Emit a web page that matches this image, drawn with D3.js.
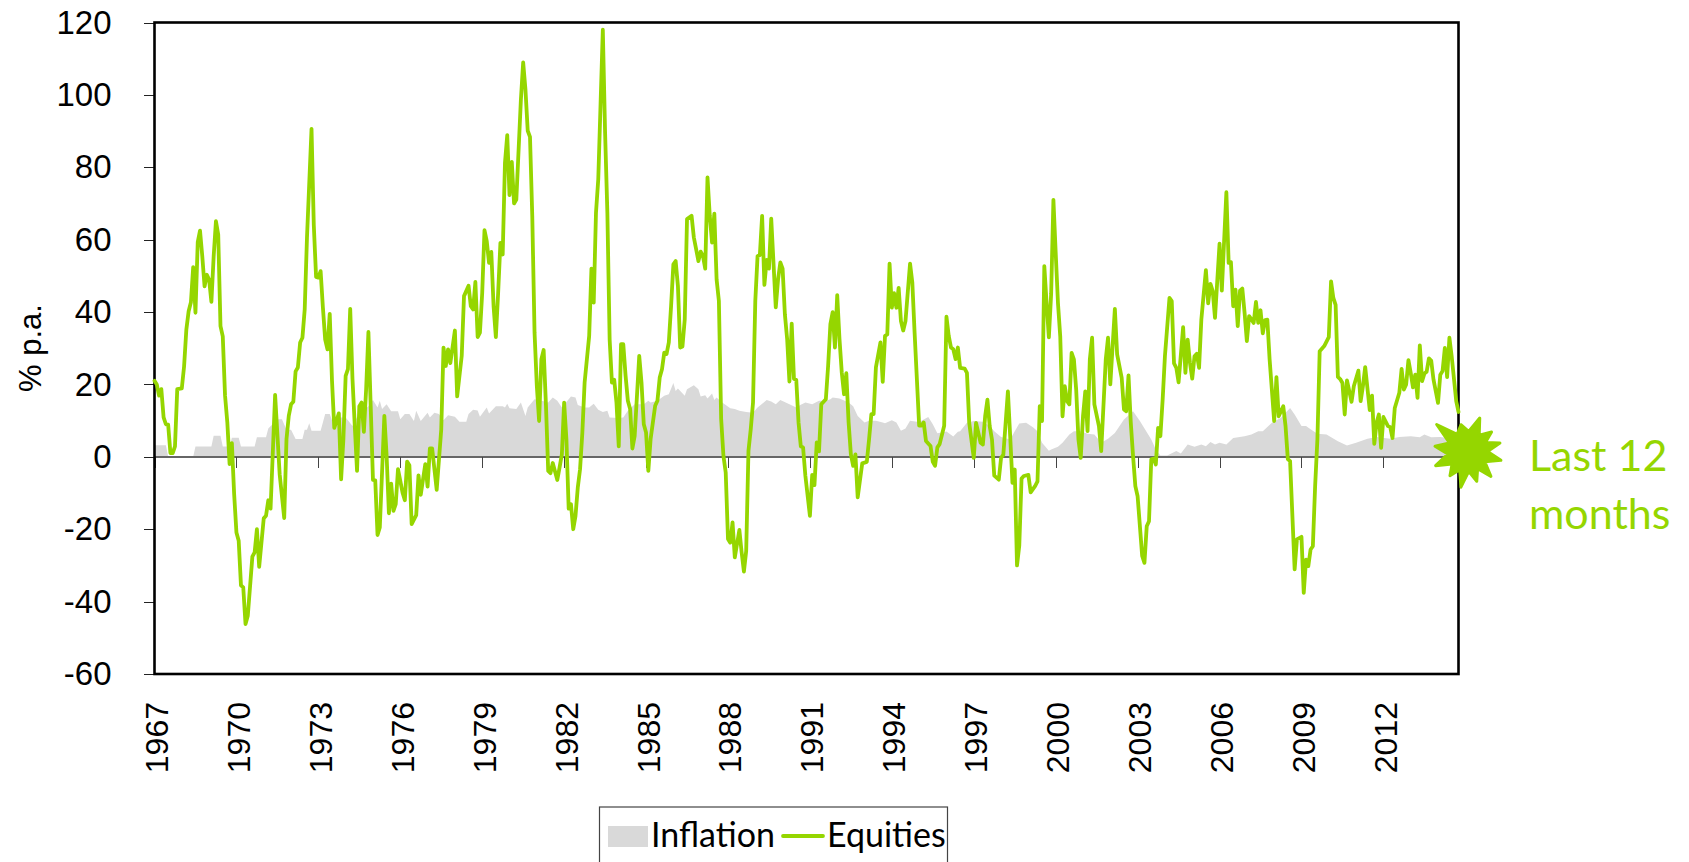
<!DOCTYPE html>
<html lang="en">
<head>
<meta charset="UTF-8">
<title>Equities vs inflation</title>
<script src="https://d3js.org/d3.v7.min.js"></script>
<style>
    body { margin: 0; background: #fff; }
    .axis text { font-family: "Liberation Sans", Arial, sans-serif; font-size: 32px; fill: #000; }
    .y-axis text { font-size: 33px; }
    .axis path, .axis line { fill: none; shape-rendering: crispEdges; }
    .callout { font-family: Lato, sans-serif; fill: #95d600; font-size: 43px; }
    .legend text { font-family: Lato, sans-serif; font-size: 34px; fill: #000; }
</style>
</head>
<body>
<script>
// values: [months since Jan 1967, % p.a.]
const equities = [
[0,21],[1,20],[2,16.9],[3,18.7],[4,10.9],[5,9],[6,8.9],[7,1],[8,1],[9,2.9],[10,18.7],[12,18.9],[13,25],[14,35.2],[15,40.2],[16,42.7],[17,52.4],[18,39.8],[19,59.3],[20,62.5],
[21,55.4],[22,47.1],[23,50.3],[24,49],[25,42.8],[26,55.4],[27,65.1],[28,61.4],[29,36.1],[30,33.3],[31,16.9],[32,9.5],[33,-2],[34,3.8],[35,-10.3],[36,-20.9],[37,-23.2],[38,-35.5],[39,-36.1],[40,-46.2],
[41,-43.9],[43,-27.6],[44,-26.4],[45,-20],[46,-30.4],[48,-17],[49,-16.3],[50,-12],[51,-14.3],[53,17.1],[55,-4.8],[57,-16.9],[58,4.9],[59,11.3],[60,14.5],[61,15.2],[62,23.6],[63,24.7],[64,31.6],[65,32.9],
[66,40.7],[67,60.5],[69,90.6],[70,64],[71,49.7],[72,49.5],[73,51.3],[74,41.2],[75,32.4],[76,29.7],[77,39.5],[78,21],[79,8],[81,12],[82,-6.2],[83,4.9],[84,22.4],[85,24.2],[86,40.9],[87,21.5],
[88,8.6],[89,-3.9],[90,14],[91,15],[92,6.9],[93,18.7],[94,34.5],[95,14],[96,-6.4],[97,-6.5],[98,-21.6],[99,-19.5],[101,11.3],[102,0.3],[103,-15.6],[104,-7.4],[105,-14.9],[106,-13.1],[107,-3.4],[109,-9.9],
[110,-12],[111,-1.3],[112,-2.3],[113,-18.6],[115,-16.1],[116,-5.1],[117,-10.5],[119,-2],[120,-8.2],[121,2.3],[122,2.3],[124,-9.1],[126,7.6],[127,30.2],[128,25.1],[129,29.7],[130,25.9],[132,34.9],[133,16.7],[135,27.9],
[136,44.4],[138,47.3],[139,41.6],[140,40.7],[141,48.3],[142,33.1],[143,34.3],[144,45.3],[145,62.6],[146,59.6],[147,53.6],[148,56.6],[149,41.6],[150,33.1],[151,45.3],[152,59.1],[153,55.9],[154,81.2],[155,88.9],[156,72.3],
[157,81.5],[158,70],[159,71.1],[161,98.7],[162,109],[163,101.5],[164,90.1],[165,88.4],[166,66.5],[167,34.3],[168,19.6],[169,9.9],[170,27],[171,29.5],[172,14.5],[173,-3.9],[174,-4.5],[175,-1.7],[177,-6.4],[178,-2.9],
[179,0.7],[180,15],[181,4.9],[182,-14.3],[183,-13.1],[184,-20],[185,-16.3],[186,-8.5],[187,-3.4],[188,6.7],[189,20.5],[191,33.4],[192,52],[193,42.6],[194,67.5],[195,76.7],[197,118],[198,89.5],[199,67.4],[200,32.4],
[201,20.5],[202,21.3],[203,15],[204,2.9],[205,31.1],[206,31.1],[207,22.4],[208,15.5],[209,13.2],[210,2.3],[211,5.8],[213,27.9],[214,20.5],[215,9],[216,6.7],[217,-3.9],[218,4.9],[220,14.1],[221,15.5],[222,21.9],
[223,24.2],[224,28.8],[225,28.4],[226,31.6],[227,41.7],[228,53.2],[229,54.1],[230,47.2],[231,30.2],[232,30.5],[233,38],[234,65.7],[236,66.6],[237,60.6],[238,57.4],[239,54.1],[240,56.7],[241,55.5],[242,52],[243,77.2],
[244,66.6],[245,59.2],[246,67.2],[247,49],[248,43.1],[249,10.4],[250,0.3],[251,-4.3],[252,-22.7],[253,-23.7],[254,-18.1],[255,-27.8],[257,-20.2],[258,-26.4],[259,-31.7],[260,-26],[261,1.7],[262,7.6],[263,15],[264,43.1],
[265,55.5],[266,55.7],[267,66.6],[268,47.5],[269,54.4],[270,52],[271,65.8],[273,41.3],[274,49],[275,53.7],[276,52],[277,39.4],[278,32.5],[279,20.8],[280,36.8],[281,21.5],[282,21.3],[283,9.5],[284,2.9],[285,2.6],
[286,-5.2],[288,-16.3],[289,-5],[290,-7.8],[291,4],[292,1.5],[293,14.5],[295,15.9],[296,25.1],[297,36.7],[298,40],[299,30.2],[300,44.7],[301,32.5],[302,23.3],[303,17.3],[304,23.1],[305,9.5],[306,0.7],[307,-2.5],
[308,0.7],[309,-11.2],[311,-1.8],[313,-1.4],[314,4.9],[315,11.8],[316,11.8],[317,24.7],[319,31.6],[320,20.7],[321,33.4],[322,33.8],[323,53.4],[324,41.2],[325,45.2],[326,41.2],[327,46.7],[328,37.5],[329,34.9],[330,37.5],
[332,53.4],[333,48.2],[334,34.3],[336,8.6],[337,8.6],[338,9.5],[339,4.4],[341,3],[342,-1.4],[343,-2.5],[344,2.6],[345,3.5],[347,8.6],[348,38.7],[349,33.4],[350,30.2],[351,29.7],[352,27],[353,30.2],[354,24.6],
[356,24.4],[357,23.2],[358,9.4],[360,-0.3],[361,9.4],[363,3.9],[364,3.4],[365,11.2],[366,15.8],[367,8.5],[368,4.8],[369,-5.2],[371,-6.3],[372,-0.3],[373,0.6],[375,18.1],[376,5.7],[377,-7.2],[378,-3.5],[379,-30],
[380,-24.5],[381,-6],[382,-5.3],[384,-5],[385,-9.8],[387,-8],[388,-6.8],[389,14],[390,9.9],[391,52.7],[392,42.5],[393,33],[394,45],[395,71],[396,56.4],[397,42.5],[398,33.3],[399,11.2],[400,19.5],[401,15.4],
[402,14.5],[403,28.7],[404,26.9],[405,18.6],[406,4.8],[407,-0.3],[408,11.2],[409,18.1],[410,7.1],[411,26.9],[412,32.9],[413,14.5],[415,8.5],[416,1.6],[418,26.9],[419,32.9],[420,20],[422,40.9],[423,28.3],[425,21.8],
[426,13.1],[427,12.6],[428,22.5],[429,9.4],[430,0.2],[431,-8.1],[432,-10.9],[434,-27.4],[435,-29.3],[436,-19.2],[437,-17.8],[438,-0.7],[439,-0.5],[440,-2.1],[441,8],[442,5.7],[443,15.8],[444,27.8],[446,43.9],[447,43],
[448,25.8],[449,24.6],[450,20.6],[452,35.8],[453,23.2],[454,32.4],[455,26],[456,21.6],[457,27.8],[458,28.5],[459,24.6],[460,37.9],[462,51.6],[463,42.4],[464,47.8],[465,45.8],[466,38.4],[468,58.9],[469,45.9],[471,73.1],
[472,53.6],[473,53.8],[474,41.6],[475,46.2],[476,36.1],[477,45.9],[478,46.5],[479,39.8],[480,32],[481,38.9],[483,37],[484,42.8],[485,37],[486,40.5],[487,34.1],[488,37.8],[489,37.9],[490,26.9],[492,9.9],[493,22],
[494,11.2],[496,14],[497,8.5],[498,-0.6],[499,-1.2],[501,-31.1],[502,-22.8],[504,-22.1],[505,-37.6],[506,-28.4],[507,-30.2],[508,-25.6],[509,-24.7],[510,-8.1],[511,4.8],[512,29.2],[514,30.6],[516,33.1],[517,48.5],[518,43.9],
[519,42],[520,22.1],[521,21.5],[522,20.4],[523,11.7],[524,21.1],[526,15.2],[527,19.5],[529,23.8],[530,15.4],[531,19.5],[532,24.8],[534,12.9],[535,16.9],[536,3.6],[537,9.4],[538,11.7],[539,2.5],[540,11],[542,8.5],
[543,8.2],[544,5.2],[545,13.5],[547,17.7],[548,24.3],[549,18.6],[550,20],[551,26.7],[552,23.2],[553,19.2],[554,22.7],[555,16.3],[556,30.8],[557,20.9],[558,23],[559,23.5],[560,27.2],[561,26.6],[562,21.4],[564,14.9],
[565,22.7],[566,23.7],[567,30.1],[568,22],[569,32.9],[570,27.8],[572,15.4],[573,12.4]
];
const inflation = [
[0,3.2],[5,3.2],[6,0],[17,0],[18,2.85],[25,2.85],[26,5.8],[29,5.8],[30,2.85],[33,2.85],[34,5.3],[37,5.3],[38,2.85],[44,2.85],[45,5.4],[49,5.4],[50,7.8],[54,10.4],[56,10.4],[58,7.5],
[60,7.5],[62,4.9],[65,4.9],[66,7.5],[67,7.5],[68,9.3],[69,7.2],[73,7.2],[75,11.8],[77,11.8],[79,8.3],[81,10.9],[84,10.9],[87,8.5],[89,11],[92,12.7],[94,14],[96,15.7],[98,13.6],[99,15.5],
[100,13.2],[102,14.5],[104,12.6],[107,12.6],[108,10.4],[110,11.8],[112,11.8],[114,9.9],[115,12.7],[117,9.9],[120,12.2],[121,10.9],[123,12.2],[125,11.8],[127,10.1],[129,11.5],[132,11.1],[134,9.7],[137,9.7],[138,11.8],
[140,13],[142,12.8],[143,11.1],[146,13.6],[147,12],[150,14],[153,14],[154,13.6],[155,14.7],[156,13.4],[159,13.2],[161,15],[163,11.3],[164,13.6],[167,15.9],[170,15.5],[173,15],[175,16.4],[177,15.5],[179,13.6],
[182,15.9],[183,16.7],[185,16.4],[186,14.3],[189,13.6],[191,13.6],[193,14.7],[195,13],[197,12.4],[199,12.7],[200,10.9],[204,10.7],[206,10.9],[208,12.7],[211,14.5],[215,14.5],[217,15.5],[218,15],[221,15.5],[224,16.9],
[226,17.3],[228,20.4],[229,18.2],[230,18.9],[233,16.9],[234,18.7],[237,19.8],[239,18.7],[240,16.7],[242,17],[243,16.1],[245,17.5],[246,15.7],[247,16.4],[249,15.2],[253,13.4],[255,13.2],[257,12.7],[260,12.4],[263,12.2],
[265,13.6],[269,15.7],[271,15.3],[273,14.5],[275,15.7],[279,14.5],[282,13.6],[284,14.4],[286,15],[289,14.5],[292,15.5],[295,15.5],[297,15.9],[298,16.4],[301,16.1],[305,15],[307,14],[309,11.3],[312,9.5],[314,10],
[317,10],[320,9.5],[321,9.3],[324,10.1],[326,9.5],[328,7.2],[330,7.8],[332,10],[335,9.7],[337,10],[340,11],[342,9],[344,6.5],[346,6.7],[348,7],[351,5.6],[353,6.9],[354,7.1],[357,9.4],[360,9.9],
[364,9.7],[367,8.5],[369,7.1],[372,5.5],[376,4.8],[378,7.1],[380,9.2],[383,9.4],[386,8.2],[388,7.1],[390,3.9],[393,1.7],[394,2],[397,2.8],[399,3.9],[402,6.2],[404,7.1],[407,7.1],[410,6.4],[413,6.2],
[416,3.9],[419,5],[422,6.6],[426,10.3],[430,12.6],[433,9.9],[438,4.8],[440,2],[442,0.4],[445,0.4],[449,1.6],[451,0.9],[454,3.4],[457,2.8],[460,3.4],[462,2.9],[464,4.1],[466,3.4],[468,3.9],[471,3.4],
[474,5.2],[479,5.7],[482,6.2],[485,7.1],[487,7.1],[491,9.4],[495,10.8],[499,13.5],[501,11.7],[504,8.5],[506,8.5],[508,7.6],[511,6.4],[515,6.2],[520,4.3],[524,3.1],[528,3.9],[533,5],[537,5.5],[543,5],
[547,5.5],[552,5.7],[556,5.4],[558,6.2],[561,5.4],[565,5.5],[568,5.2],[573,5]
];
const yTicks = [-60, -40, -20, 0, 20, 40, 60, 80, 100, 120];
const xTicks = d3.range(1967, 2013, 3);
const lastMonths = [577, 1.5];
const calloutLines = ["Last 12", "months"];
// burst outline: [angle in degrees, radius]
const burstTips = [[-14,27.5],[20,35.5],[51,30.8],[75.5,33.4],[105,34.5],[137,34.2],[163,31.3],[190.6,36.3],[216,30],[246,35],[279,33],[311,41]];

const green = "#95d600", grey = "#d9d9d9";
const toYear = m => 1967 + m / 12;

const svg = d3.select("body").append("svg").attr("width", 1689).attr("height", 862);

const x = d3.scaleLinear().domain([1967, toYear(573)]).range([154.5, 1458.5]);
const y = d3.scaleLinear().domain([-60, 120]).range([674, 22.5]);

// inflation area
svg.append("path")
    .datum(inflation)
    .attr("fill", grey)
    .attr("d", d3.area().x(d => x(toYear(d[0]))).y0(y(0)).y1(d => y(d[1])));

// zero line with the year ticks hanging off it
const zeroAxis = svg.append("g")
    .attr("class", "axis")
    .attr("transform", `translate(0,${y(0)})`)
    .call(d3.axisBottom(x).tickValues(xTicks).tickSize(11).tickSizeOuter(0).tickFormat(""));
zeroAxis.select("path").attr("stroke", "#666").attr("stroke-width", 2);
zeroAxis.selectAll("line").attr("stroke", "#444").attr("stroke-width", 1);

// year labels
const yearAxis = svg.append("g")
    .attr("class", "axis")
    .attr("transform", `translate(0,${y(-60)})`)
    .call(d3.axisBottom(x).tickValues(xTicks).tickSize(0).tickFormat(d3.format("d")));
yearAxis.select("path").remove();
yearAxis.selectAll("text")
    .attr("text-anchor", "end")
    .attr("dominant-baseline", "central")
    .attr("dy", null)
    .attr("y", 0)
    .attr("transform", "translate(2,28) rotate(-90)");

// y axis, plain hyphen in the negative labels
const yAxis = svg.append("g")
    .attr("class", "axis y-axis")
    .attr("transform", `translate(${x(1967)},0)`)
    .call(d3.axisLeft(y).tickValues(yTicks).tickSize(11).tickSizeOuter(0).tickPadding(32).tickFormat(d => String(d)));
yAxis.select("path").remove();
yAxis.selectAll("line").attr("stroke", "#222").attr("stroke-width", 1);

// plot frame
svg.append("rect")
    .attr("x", x.range()[0]).attr("y", y(120))
    .attr("width", x.range()[1] - x.range()[0])
    .attr("height", y(-60) - y(120))
    .attr("fill", "none").attr("stroke", "#000").attr("stroke-width", 2.6);

svg.append("path")
    .datum(equities)
    .attr("fill", "none")
    .attr("stroke", green)
    .attr("stroke-width", 3.8)
    .attr("stroke-linejoin", "round")
    .attr("stroke-linecap", "round")
    .attr("d", d3.line().x(d => x(toYear(d[0]))).y(d => y(d[1])));

svg.append("text")
    .attr("class", "axis-title")
    .attr("transform", "translate(41,348) rotate(-90)")
    .attr("text-anchor", "middle")
    .style("font", '31px "Liberation Sans", Arial, sans-serif')
    .text("% p.a.");

// burst marker for the last 12 months
const burstPoints = [];
burstTips.forEach((t, i) => {
    const next = burstTips[(i + 1) % burstTips.length];
    const nextAngle = i === burstTips.length - 1 ? next[0] + 360 : next[0];
    burstPoints.push([t[0], t[1]], [(t[0] + nextAngle) / 2, 20]);
});
svg.append("path")
    .attr("transform", `translate(${x(toYear(lastMonths[0]))},${y(lastMonths[1])})`)
    .attr("fill", green).attr("stroke", green).attr("stroke-width", 3).attr("stroke-linejoin", "round")
    .attr("d", d3.lineRadial().angle(d => d[0] * Math.PI / 180).radius(d => d[1]).curve(d3.curveLinearClosed)(burstPoints));

svg.selectAll(".callout")
    .data(calloutLines)
    .join("text")
    .attr("class", "callout")
    .attr("x", 1529)
    .attr("y", (d, i) => 471 + i * 57.5)
    .text(d => d);

// legend, its box runs off the bottom of the picture
const legend = svg.append("g").attr("class", "legend");
legend.append("rect")
    .attr("x", 599.5).attr("y", 807).attr("width", 348).attr("height", 70)
    .attr("fill", "#fff").attr("stroke", "#444").attr("stroke-width", 1.2);
legend.append("rect")
    .attr("x", 608).attr("y", 826).attr("width", 40).attr("height", 21).attr("fill", grey);
legend.append("text").attr("x", 651).attr("y", 847).text("Inflation");
legend.append("line")
    .attr("x1", 783).attr("x2", 823).attr("y1", 836).attr("y2", 836)
    .attr("stroke", green).attr("stroke-width", 3.8).attr("stroke-linecap", "round");
legend.append("text").attr("x", 827).attr("y", 847).text("Equities");
</script>
</body>
</html>
